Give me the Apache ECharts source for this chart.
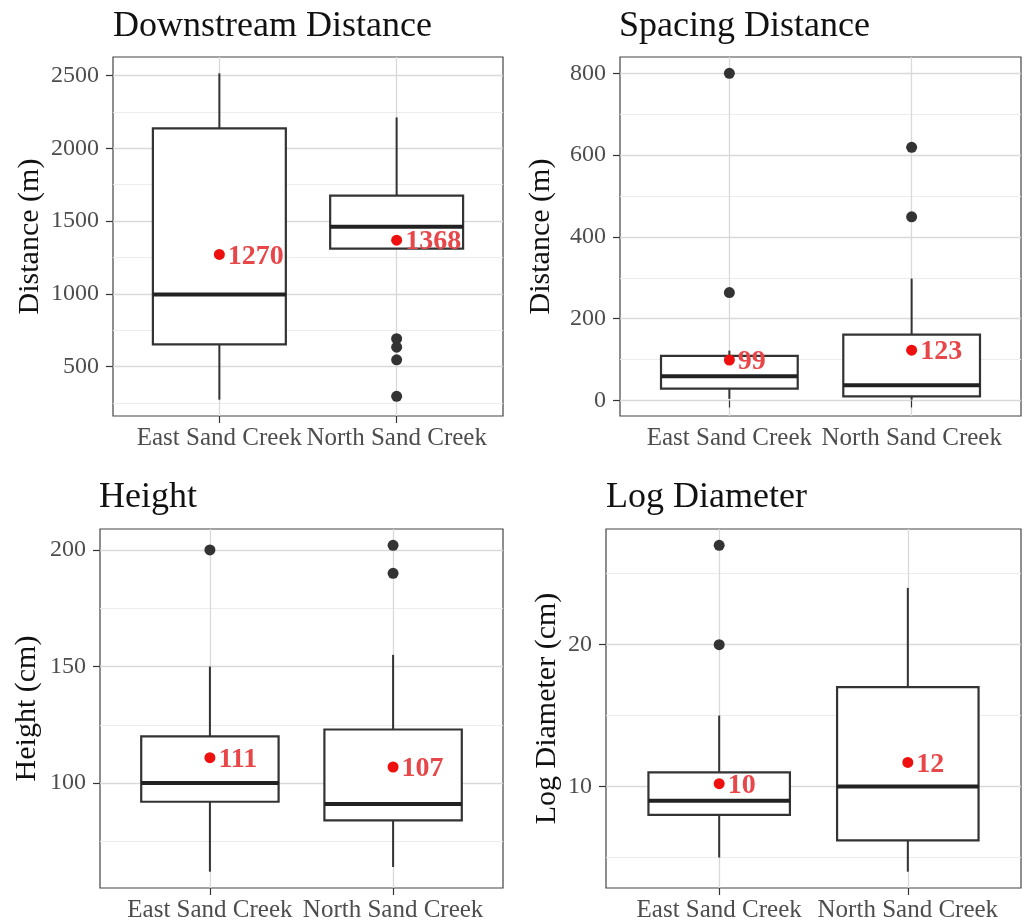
<!DOCTYPE html>
<html><head><meta charset="utf-8">
<script src="https://cdn.jsdelivr.net/npm/echarts@6/dist/echarts.min.js"></script>
<style>html,body{margin:0;padding:0;background:#fff}#c{width:1024px;height:924px}</style>
</head><body><div id="c"></div>
<script>
// ---------------- data ----------------
const categories = ['East Sand Creek', 'North Sand Creek'];
const panelTitles = ['Downstream Distance', 'Spacing Distance', 'Height', 'Log Diameter'];
const yTitles = ['Distance (m)', 'Distance (m)', 'Height (cm)', 'Log Diameter (cm)'];

// box stats per category: [lower whisker, Q1, median, Q3, upper whisker]
const downstreamBox = [[272, 652, 995, 2136, 2515], [1310, 1310, 1460, 1675, 2212]];
const downstreamOutliers = [[], [691, 633, 546, 295]];
const downstreamMeans = [1270, 1368];
const downstreamMajor = [500, 1000, 1500, 2000, 2500];
const downstreamMinor = [250, 750, 1250, 1750, 2250];

const spacingBox = [[4, 29, 59, 109, 122], [2, 10, 37, 161, 298]];
const spacingOutliers = [[800, 264], [619, 449]];
const spacingMeans = [99, 123];
const spacingMajor = [0, 200, 400, 600, 800];
const spacingMinor = [100, 300, 500, 700];

const heightBox = [[62, 92, 100, 120, 150], [64, 84, 91, 123, 155]];
const heightOutliers = [[200], [202, 190]];
const heightMeans = [110.9, 106.9];
const heightMajor = [100, 150, 200];
const heightMinor = [75, 125, 175];

const diameterBox = [[5, 8, 9, 11, 15], [4, 6.2, 10, 17, 24]];
const diameterOutliers = [[27, 20], []];
const diameterMeans = [10.2, 11.7];
const diameterMajor = [10, 20];
const diameterMinor = [5, 15, 25];

const panels = [
  {box: downstreamBox, out: downstreamOutliers, mean: downstreamMeans, major: downstreamMajor, minor: downstreamMinor},
  {box: spacingBox, out: spacingOutliers, mean: spacingMeans, major: spacingMajor, minor: spacingMinor},
  {box: heightBox, out: heightOutliers, mean: heightMeans, major: heightMajor, minor: heightMinor},
  {box: diameterBox, out: diameterOutliers, mean: diameterMeans, major: diameterMajor, minor: diameterMinor}
];

// ---------------- layout ----------------
const FONT = 'Liberation Serif';
const grids = [
  {left: 113, top: 57, width: 390, height: 359},
  {left: 620, top: 57, width: 401, height: 359},
  {left: 100, top: 529, width: 403, height: 359},
  {left: 606, top: 529, width: 415, height: 359}
];
const titlePos = [
  {left: 113, top: 9}, {left: 619, top: 9}, {left: 99, top: 480}, {left: 606, top: 480}
];
const nameGaps = [68, 64, 58, 44];

const chart = echarts.init(document.getElementById('c'), null, {renderer: 'canvas'});

function renderBox(params, api) {
  const x = api.value(0);
  const p = [1, 2, 3, 4, 5].map(i => api.coord([x, api.value(i)]));
  const half = api.size([0.75, 0])[0] / 2;
  const cx = p[0][0];
  const stroke = '#333333';
  return {type: 'group', children: [
    {type: 'line', shape: {x1: cx, y1: p[4][1], x2: cx, y2: p[3][1]}, style: {stroke, lineWidth: 2}},
    {type: 'line', shape: {x1: cx, y1: p[1][1], x2: cx, y2: p[0][1]}, style: {stroke, lineWidth: 2}},
    {type: 'rect', shape: {x: cx - half, y: p[3][1], width: 2 * half, height: p[1][1] - p[3][1]},
      style: {fill: '#ffffff', stroke, lineWidth: 2.2}},
    {type: 'line', shape: {x1: cx - half, y1: p[2][1], x2: cx + half, y2: p[2][1]}, style: {stroke: '#222', lineWidth: 4}}
  ]};
}

const option = {
  backgroundColor: '#ffffff',
  animation: false,
  title: panelTitles.map((t, i) => ({
    text: t, left: titlePos[i].left, top: titlePos[i].top, padding: 0,
    textStyle: {fontFamily: FONT, fontSize: 36, fontWeight: 'normal', color: '#111'}
  })),
  grid: grids.map(g => Object.assign({show: true, borderColor: '#444', borderWidth: 1.2, backgroundColor: '#fff'}, g)),
  xAxis: grids.map((g, i) => ({
    type: 'value', gridIndex: i, min: 0.4, max: 2.6,
    axisLine: {show: false},
    axisTick: {show: true, customValues: [1, 2], length: 7, lineStyle: {color: '#333', width: 1.2}},
    axisLabel: {show: true, customValues: [1, 2], formatter: v => categories[Math.round(v) - 1] || '',
      fontFamily: FONT, fontSize: 25, color: '#4d4d4d', margin: 10},
    splitLine: {show: true, lineStyle: {color: '#d9d9d9', width: 1.3}},
    minorSplitLine: {show: false}
  })),
  yAxis: [],
  series: []
};

panels.forEach((pn, i) => {
  let lo = Infinity, hi = -Infinity;
  pn.box.forEach(b => { lo = Math.min(lo, b[0]); hi = Math.max(hi, b[4]); });
  pn.out.forEach(o => o.forEach(v => { lo = Math.min(lo, v); hi = Math.max(hi, v); }));
  const pad = (hi - lo) * 0.05;
  const ymin = lo - pad, ymax = hi + pad;
  option.yAxis.push({
    type: 'value', gridIndex: i, min: ymin, max: ymax,
    name: yTitles[i], nameLocation: 'middle', nameRotate: 90, nameGap: nameGaps[i],
    nameTextStyle: {fontFamily: FONT, fontSize: 30, color: '#111'},
    axisLine: {show: false},
    axisTick: {show: true, customValues: pn.major, length: 7, lineStyle: {color: '#333', width: 1.2}},
    axisLabel: {show: true, customValues: pn.major, formatter: v => String(Math.round(v)),
      fontFamily: FONT, fontSize: 24, color: '#4d4d4d', margin: 14},
    splitLine: {show: true, lineStyle: {color: '#d9d9d9', width: 1.3}}
  });
  option.yAxis.push({
    type: 'value', gridIndex: i, min: ymin, max: ymax, position: 'left',
    axisLine: {show: false},
    axisTick: {show: false, customValues: pn.minor},
    axisLabel: {show: false, customValues: pn.minor},
    splitLine: {show: true, lineStyle: {color: '#ececec', width: 1}}
  });
  option.series.push({
    type: 'custom', xAxisIndex: i, yAxisIndex: 2 * i, renderItem: renderBox,
    encode: {x: 0, y: [1, 2, 3, 4, 5]},
    data: pn.box.map((b, k) => [k + 1].concat(b)), z: 2
  });
  const outData = [];
  pn.out.forEach((o, k) => o.forEach(v => outData.push([k + 1, v])));
  option.series.push({
    type: 'scatter', xAxisIndex: i, yAxisIndex: 2 * i, data: outData,
    symbolSize: 11, itemStyle: {color: '#333333', opacity: 1}, z: 3
  });
  option.series.push({
    type: 'scatter', xAxisIndex: i, yAxisIndex: 2 * i,
    data: pn.mean.map((m, k) => [k + 1, m]),
    symbolSize: 11, itemStyle: {color: '#ee0f0f', opacity: 1}, z: 4,
    label: {show: true, position: 'right', distance: 3, offset: [0, 2], formatter: p => String(Math.round(p.value[1])),
      fontFamily: FONT, fontSize: 28, fontWeight: 'bold', color: '#e8474a'}
  });
});

chart.setOption(option);
</script>
</body></html>
